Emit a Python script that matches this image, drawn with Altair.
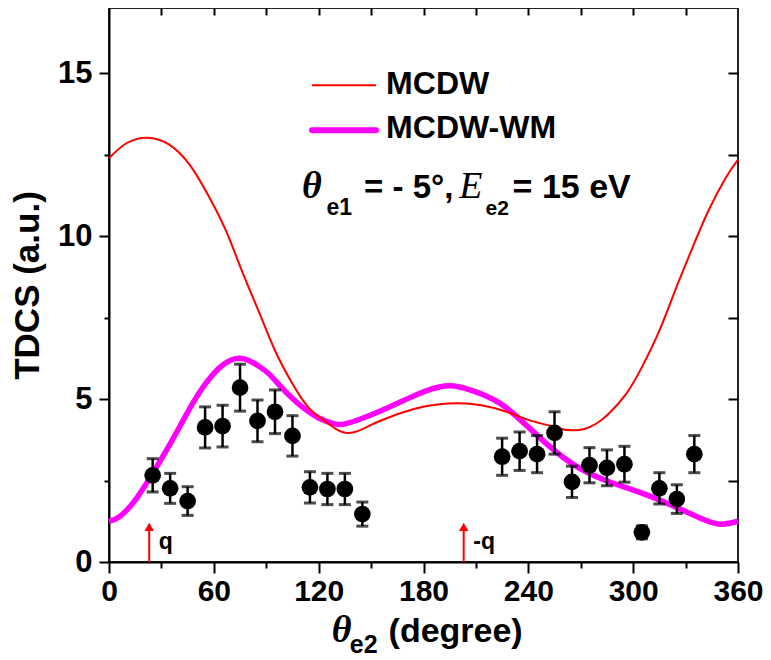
import altair as alt
import pandas as pd

# ---------------- data ----------------
mcdw_x = [0, 10, 22, 34, 46, 57, 67, 76, 86, 95, 105, 114, 122, 130, 137, 145, 156, 175,
          189, 200, 213, 227, 240, 251, 258, 265, 272, 279, 286, 296, 305, 315, 324, 334,
          343, 353, 360]
mcdw_y = [12.39, 12.85, 13.02, 12.82, 12.2, 11.23, 10.16, 8.94, 7.65, 6.49, 5.47, 4.75, 4.38,
          4.08, 3.96, 4.08, 4.35, 4.70, 4.84, 4.87, 4.81, 4.62, 4.36, 4.2, 4.09, 4.04, 4.08,
          4.25, 4.55, 5.16, 5.98, 7.1, 8.33, 9.65, 10.77, 11.79, 12.35]

wm_x = [0, 6, 15, 25, 34, 44, 53, 63, 70, 75, 80, 86, 92, 98, 105, 112, 120, 127, 133, 142,
        156, 175, 189, 200, 213, 227, 246, 265, 284, 303, 322, 341, 351, 360]
wm_y = [1.25, 1.39, 1.9, 2.72, 3.53, 4.5, 5.3, 5.95, 6.2, 6.25, 6.18, 6.0, 5.75, 5.4, 5.02,
        4.7, 4.42, 4.27, 4.22, 4.35, 4.65, 5.11, 5.37, 5.38, 5.16, 4.75, 3.84, 3.02, 2.51,
        2.15, 1.74, 1.29, 1.16, 1.25]

exp_x = [25, 35, 45, 55, 65, 75, 85, 95, 105, 115, 125, 135, 145,
         225, 235, 245, 255, 265, 275, 285, 295, 305, 315, 325, 335]
exp_y = [2.66, 2.26, 1.87, 4.13, 4.17, 5.35, 4.33, 4.61, 3.87, 2.29, 2.24, 2.24, 1.47,
         3.23, 3.40, 3.31, 3.96, 2.46, 2.97, 2.89, 3.00, 0.91, 2.26, 1.93, 3.31]
exp_err = [0.51, 0.46, 0.44, 0.63, 0.64, 0.72, 0.64, 0.67, 0.62, 0.48, 0.48, 0.48, 0.37,
           0.57, 0.59, 0.57, 0.65, 0.48, 0.54, 0.55, 0.55, 0.2, 0.48, 0.44, 0.57]

arrow_x = [23, 203]
arrow_labels = ["q", "-q"]

x_major = [0, 60, 120, 180, 240, 300, 360]
x_minor = [30, 90, 150, 210, 270, 330]
x_top = [30, 60, 90, 120, 150, 180, 210, 240, 270, 300, 330]
y_major = [0, 5, 10, 15]
y_minor = [2.5, 7.5, 12.5]
y_right = [2.5, 5, 7.5, 10, 12.5, 15]

series_names = ["MCDW", "MCDW-WM"]
series_colors = ["#ff0000", "#ff00ff"]

SANS = "Liberation Sans"
SERIF = "Liberation Serif"

xs = alt.Scale(domain=[0, 360], nice=False, zero=False)
ys = alt.Scale(domain=[0, 17], nice=False, zero=False)

df_mcdw = pd.DataFrame({"x": mcdw_x, "y": mcdw_y})
df_wm = pd.DataFrame({"x": wm_x, "y": wm_y})
df_exp = pd.DataFrame({"x": exp_x, "y": exp_y,
                       "lo": [v - e for v, e in zip(exp_y, exp_err)],
                       "hi": [v + e for v, e in zip(exp_y, exp_err)]})

# ---------------- axes ----------------
ax_x_major = alt.Axis(values=x_major, orient="bottom", tickSize=11, tickWidth=2, tickColor="black",
                      labelFont=SANS, labelFontWeight="bold", labelFontSize=30, labelColor="black",
                      labelPadding=3, labelFlush=False, grid=False, domain=True,
                      domainColor="black", domainWidth=2, title=None)
ax_x_minor = alt.Axis(values=x_minor, orient="bottom", tickSize=6, tickWidth=2, tickColor="black",
                      labels=False, grid=False, domain=False, title=None)
ax_x_top = alt.Axis(values=x_top, orient="top", tickSize=7, tickWidth=2, tickColor="black",
                    offset=-7, labels=False, grid=False, domain=False, title=None)
ax_y_major = alt.Axis(values=y_major, orient="left", tickSize=10, tickWidth=2, tickColor="black",
                      labelFont=SANS, labelFontWeight="bold", labelFontSize=31, labelColor="black",
                      labelPadding=7, grid=False, domain=True, domainColor="black", domainWidth=2,
                      title="TDCS (a.u.)", titleFont=SANS, titleFontWeight="bold", titleFontSize=35,
                      titleColor="black", titlePadding=12)
ax_y_minor = alt.Axis(values=y_minor, orient="left", tickSize=5, tickWidth=2, tickColor="black",
                      labels=False, grid=False, domain=False, title=None)
ax_y_right = alt.Axis(values=y_right, orient="right", tickSize=10, tickWidth=2, tickColor="black",
                      offset=-10, labels=False, grid=False, domain=False, title=None)

# ---------------- layers ----------------
red = alt.Chart(df_mcdw).mark_line(color=series_colors[0], strokeWidth=2,
                                   interpolate="natural").encode(
    x=alt.X("x:Q", scale=xs, axis=ax_x_major),
    y=alt.Y("y:Q", scale=ys, axis=ax_y_major))

mag = alt.Chart(df_wm).mark_line(color=series_colors[1], strokeWidth=5.5,
                                 interpolate="natural").encode(
    x=alt.X("x:Q", scale=xs, axis=ax_x_minor),
    y=alt.Y("y:Q", scale=ys, axis=ax_y_minor))

err = alt.Chart(df_exp).mark_rule(color="black", strokeWidth=2.5).encode(
    x=alt.X("x:Q", scale=xs, axis=None),
    y=alt.Y("lo:Q", scale=ys, axis=None), y2="hi:Q")
cap_lo = alt.Chart(df_exp).mark_tick(color="black", orient="horizontal", size=12,
                                     thickness=3).encode(
    x=alt.X("x:Q", scale=xs, axis=None), y=alt.Y("lo:Q", scale=ys, axis=None))
cap_hi = alt.Chart(df_exp).mark_tick(color="black", orient="horizontal", size=12,
                                     thickness=3).encode(
    x=alt.X("x:Q", scale=xs, axis=None), y=alt.Y("hi:Q", scale=ys, axis=None))
pts = alt.Chart(df_exp).mark_point(filled=True, color="black", size=280, opacity=1,
                                   shape="circle").encode(
    x=alt.X("x:Q", scale=xs, axis=ax_x_top),
    y=alt.Y("y:Q", scale=ys, axis=ax_y_right))

# arrows
df_arr = pd.DataFrame({"x": arrow_x, "y0": [0, 0], "y1": [1.0, 1.0], "head": [1.08, 1.08],
                       "lx": [a + 5.5 for a in arrow_x], "ly": [0.6, 0.6], "t": arrow_labels})
arr_shaft = alt.Chart(df_arr).mark_rule(color="red", strokeWidth=2).encode(
    x=alt.X("x:Q", scale=xs, axis=None), y=alt.Y("y0:Q", scale=ys, axis=None), y2="y1:Q")
arr_head = alt.Chart(df_arr).mark_point(shape="triangle-up", filled=True, color="red",
                                        size=90, opacity=1).encode(
    x=alt.X("x:Q", scale=xs, axis=None), y=alt.Y("head:Q", scale=ys, axis=None))
arr_txt = alt.Chart(df_arr).mark_text(font=SANS, fontWeight="bold", fontSize=23, align="left",
                                      baseline="middle", color="black").encode(
    x=alt.X("lx:Q", scale=xs, axis=None), y=alt.Y("ly:Q", scale=ys, axis=None), text="t:N")

# legend (drawn by hand inside the plot)
df_leg = pd.DataFrame({"x0": [116.2, 116.2], "x1": [152.8, 152.8], "y": [14.63, 13.25],
                       "tx": [158.6, 158.6], "ty": [14.35, 13.02], "name": series_names})
leg_red = alt.Chart(df_leg.iloc[[0]]).mark_rule(color=series_colors[0], strokeWidth=2).encode(
    x=alt.X("x0:Q", scale=xs, axis=None), x2="x1:Q", y=alt.Y("y:Q", scale=ys, axis=None))
leg_mag = alt.Chart(df_leg.iloc[[1]]).mark_rule(color=series_colors[1], strokeWidth=6,
                                                strokeCap="round").encode(
    x=alt.X("x0:Q", scale=xs, axis=None), x2="x1:Q", y=alt.Y("y:Q", scale=ys, axis=None))
leg_txt = alt.Chart(df_leg).mark_text(font=SANS, fontWeight="bold", fontSize=32, align="left",
                                      baseline="alphabetic", color="black").encode(
    x=alt.X("tx:Q", scale=xs, axis=None), y=alt.Y("ty:Q", scale=ys, axis=None), text="name:N")


def txt(s, x, y, font, size, weight="bold", style="normal"):
    d = pd.DataFrame({"x": [x], "y": [y], "t": [s]})
    return alt.Chart(d).mark_text(font=font, fontSize=size, fontWeight=weight, fontStyle=style,
                                  align="left", baseline="alphabetic", color="black").encode(
        x=alt.X("x:Q", scale=xs, axis=None), y=alt.Y("y:Q", scale=ys, axis=None), text="t:N")


annot = [
    txt("θ", 110.5, 11.17, SERIF, 38, "bold", "italic"),
    txt("e1", 124.5, 10.65, SANS, 23),
    txt("= - 5°,", 146.0, 11.17, SANS, 33),
    txt("E", 200.5, 11.17, SERIF, 38, "normal", "italic"),
    txt("e2", 215.5, 10.65, SANS, 21),
    txt("= 15 eV", 231.0, 11.17, SANS, 34),
    # x-axis title
    txt("θ", 127.5, -2.45, SERIF, 38, "bold", "italic"),
    txt("e2", 137.8, -2.78, SANS, 25),
    txt("(degree)", 160.0, -2.45, SANS, 34),
]

chart = alt.layer(
    mag, red, err, cap_lo, cap_hi, pts, arr_shaft, arr_head, arr_txt,
    leg_red, leg_mag, leg_txt, *annot
).resolve_axis(x="independent", y="independent").properties(
    width=629, height=554,
    autosize=alt.AutoSizeParams(type="none"),
    padding={"left": 101, "top": 0, "right": 25, "bottom": 96},
).configure_view(stroke="#222", strokeWidth=2)

chart.save("out.html", embed_options={"renderer": "svg", "actions": False})
